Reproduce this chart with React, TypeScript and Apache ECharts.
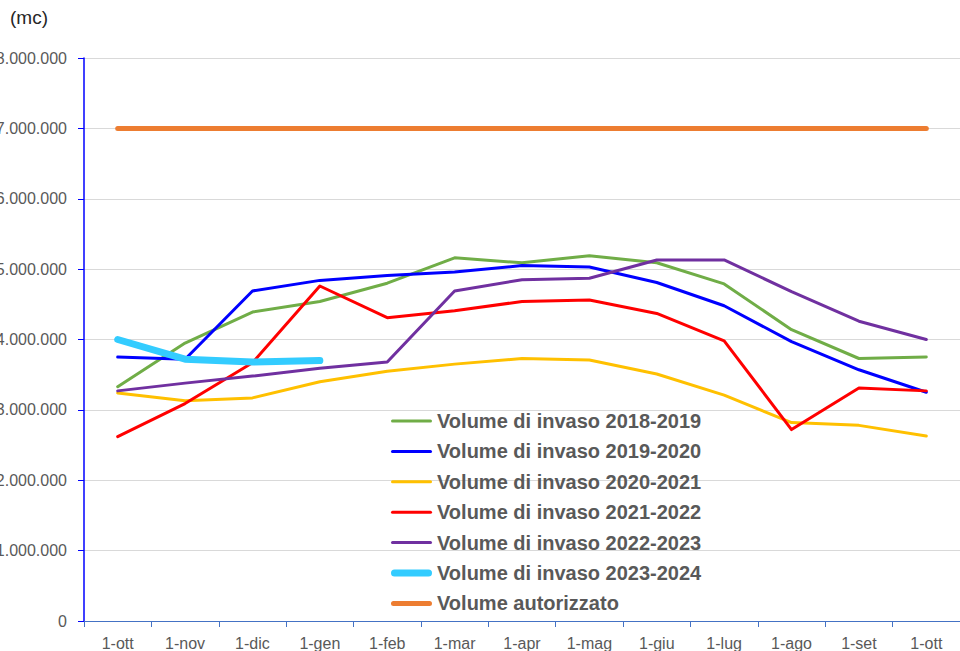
import React, { useEffect, useRef } from "react";
import * as echarts from "echarts";

const categories = ["1-ott", "1-nov", "1-dic", "1-gen", "1-feb", "1-mar", "1-apr", "1-mag", "1-giu", "1-lug", "1-ago", "1-set", "1-ott"];

const v2018_2019 = [3330000, 3950000, 4390000, 4540000, 4800000, 5160000, 5090000, 5190000, 5090000, 4790000, 4140000, 3730000, 3750000];
const v2019_2020 = [3750000, 3720000, 4690000, 4840000, 4910000, 4960000, 5050000, 5030000, 4810000, 4480000, 3970000, 3570000, 3250000];
const v2020_2021 = [3240000, 3130000, 3170000, 3400000, 3550000, 3650000, 3730000, 3710000, 3510000, 3210000, 2820000, 2780000, 2630000];
const v2021_2022 = [2620000, 3090000, 3670000, 4760000, 4310000, 4410000, 4540000, 4560000, 4370000, 3980000, 2720000, 3310000, 3270000];
const v2022_2023 = [3270000, 3380000, 3480000, 3590000, 3680000, 4690000, 4850000, 4870000, 5130000, 5130000, 4680000, 4260000, 4000000];
const v2023_2024 = [4000000, 3720000, 3680000, 3700000, null, null, null, null, null, null, null, null, null];
const vAutorizzato = [7000000, 7000000, 7000000, 7000000, 7000000, 7000000, 7000000, 7000000, 7000000, 7000000, 7000000, 7000000, 7000000];

const yTicks = [0, 1000000, 2000000, 3000000, 4000000, 5000000, 6000000, 7000000, 8000000];

const seriesDefs = [
  { name: "Volume di invaso 2018-2019", data: v2018_2019, color: "#70ad47", width: 3 },
  { name: "Volume di invaso 2019-2020", data: v2019_2020, color: "#0000ff", width: 3 },
  { name: "Volume di invaso 2020-2021", data: v2020_2021, color: "#ffc000", width: 3 },
  { name: "Volume di invaso 2021-2022", data: v2021_2022, color: "#ff0000", width: 3 },
  { name: "Volume di invaso 2022-2023", data: v2022_2023, color: "#7030a0", width: 3 },
  { name: "Volume di invaso 2023-2024", data: v2023_2024, color: "#33ccff", width: 7 },
  { name: "Volume autorizzato", data: vAutorizzato, color: "#ed7d31", width: 5 },
];

const fmt = (v: number) => String(Math.round(v)).replace(/\B(?=(\d{3})+(?!\d))/g, ".");

const barIcon = (w: number, h: number) => {
  const r = h / 2;
  return `path://M${r},0 L${w - r},0 A${r},${r} 0 0 1 ${w - r},${h} L${r},${h} A${r},${r} 0 0 1 ${r},0 Z`;
};

export default function App() {
  const ref = useRef<HTMLDivElement>(null);
  useEffect(() => {
    if (!ref.current) return;
    const chart = echarts.init(ref.current, null, { renderer: "svg" });
    chart.setOption({
      animation: false,
      backgroundColor: "#ffffff",
      textStyle: { fontFamily: "Liberation Sans" },
      graphic: [
        {
          type: "text",
          left: 10,
          top: 8,
          style: { text: "(mc)", fontSize: 19, fill: "#262626", fontFamily: "Liberation Sans" },
        },
      ],
      grid: { left: 84, right: 0, top: 58, bottom: 30, containLabel: false, outerBoundsMode: "none" },
      legend: {
        orient: "vertical",
        left: 386,
        top: 405,
        itemWidth: 41,
        itemHeight: 14,
        itemGap: 8.4,
        textStyle: { fontSize: 20, fontWeight: "bold", color: "#595959", lineHeight: 22, fontFamily: "Liberation Sans" },
        data: seriesDefs.map((s) => ({
          name: s.name,
          icon: barIcon(41, s.width),
          symbolKeepAspect: true,
          itemStyle: { color: s.color, borderWidth: 0 },
        })),
      },
      xAxis: {
        type: "category",
        data: categories,
        boundaryGap: true,
        axisLine: { lineStyle: { color: "#4472c4", width: 1 } },
        axisTick: { show: true, length: 6, lineStyle: { color: "#4472c4" } },
        axisLabel: { color: "#595959", fontSize: 16, margin: 14, interval: 0 },
        splitLine: { show: false },
      },
      yAxis: {
        type: "value",
        min: yTicks[0],
        max: yTicks[yTicks.length - 1],
        interval: 1000000,
        axisLine: { show: true, lineStyle: { color: "#0000ff", width: 1.5 } },
        axisTick: { show: true, length: 6, lineStyle: { color: "#0000ff" } },
        axisLabel: { color: "#595959", fontSize: 16, margin: 17, formatter: (v: number) => fmt(v) },
        splitLine: { show: true, lineStyle: { color: "#d9d9d9", width: 1 } },
      },
      series: seriesDefs.map((s) => ({
        name: s.name,
        type: "line",
        data: s.data,
        symbol: "none",
        showSymbol: false,
        connectNulls: false,
        lineStyle: { color: s.color, width: s.width, cap: "round", join: "round" },
        itemStyle: { color: s.color },
        emphasis: { disabled: true },
      })),
    });
    return () => chart.dispose();
  }, []);
  return <div ref={ref} style={{ position: "fixed", left: 0, top: 0, width: 960, height: 651 }} />;
}
